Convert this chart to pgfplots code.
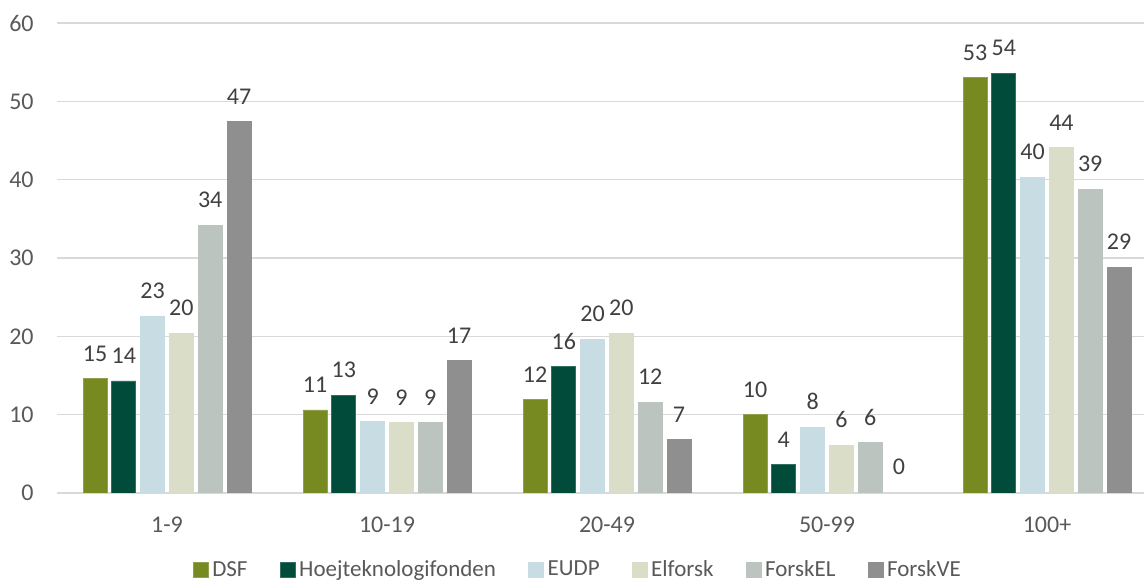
\documentclass[border=0pt]{standalone}
\usepackage{pgfplots}
\pgfplotsset{compat=1.18}
\usepackage{fontspec}
\setmainfont{Carlito}
\definecolor{cDSF}{HTML}{778A22}
\definecolor{cHoej}{HTML}{004B3A}
\definecolor{cEUDP}{HTML}{C8DCE4}
\definecolor{cElf}{HTML}{DADDC8}
\definecolor{cFEL}{HTML}{BCC4C0}
\definecolor{cFVE}{HTML}{8F8F8F}
\definecolor{txt}{HTML}{595959}
\definecolor{lbl}{HTML}{404040}
\definecolor{grd}{HTML}{D9D9D9}
\begin{document}
\begin{tikzpicture}
\begin{axis}[
  x=110pt, y=3.9167pt,
  xmin=-0.5, xmax=4.45, ymin=0, ymax=60,
  ybar=2.4pt, bar width=12pt,
  axis line style={draw=none},
  ymajorgrids, grid style={grd, line width=0.8pt},
  ytick={0,10,...,60},
  xtick={0,1,2,3,4},
  xticklabels={1-9,10-19,20-49,50-99,100+},
  major tick length=0pt,
  tick label style={font=\fontsize{12}{14}\selectfont, text=txt, inner sep=0pt},
  xticklabel style={yshift=-12pt},
  yticklabel style={xshift=-11.5pt},
  /pgf/number format/assume math mode=true,
  nodes near coords,
  nodes near coords style={font=\fontsize{12}{14}\selectfont, text=lbl, inner sep=0pt, yshift=8.5pt, /pgf/number format/.cd, fixed, precision=0},
  legend columns=6,
  legend style={draw=none, at={(0.479,-0.164)}, anchor=center, font=\fontsize{11.5}{13}\selectfont, text=txt,
    nodes={inner sep=1.7pt},
    /tikz/every even column/.append style={column sep=14.5pt}},
  legend image code/.code={\fill[#1] (0pt,-3.75pt) rectangle (7.5pt,3.75pt);},
  enlarge x limits=false,
]
\draw[grd, line width=0.8pt] (axis cs:-0.5,0) -- (axis cs:4.45,0);
\addplot[fill=cDSF, draw=cDSF!80!white] coordinates {(0,14.6) (1,10.6) (2,11.9) (3,10.0) (4,53.0)};
\addplot[fill=cHoej, draw=cHoej!80!white] coordinates {(0,14.3) (1,12.5) (2,16.1) (3,3.6) (4,53.6)};
\addplot[fill=cEUDP, draw=cEUDP] coordinates {(0,22.6) (1,9.1) (2,19.6) (3,8.4) (4,40.3)};
\addplot[fill=cElf, draw=cElf] coordinates {(0,20.4) (1,9.0) (2,20.4) (3,6.1) (4,44.1)};
\addplot[fill=cFEL, draw=cFEL] coordinates {(0,34.2) (1,9.0) (2,11.6) (3,6.4) (4,38.8)};
\addplot[fill=cFVE, draw=cFVE] coordinates {(0,47.4) (1,16.9) (2,6.8) (4,28.8)};
\node[font=\fontsize{12}{14}\selectfont, text=lbl, inner sep=0pt, anchor=south] at (axis cs:3,2.3) [xshift=36pt] {0};
\legend{DSF,Hoejteknologifonden,EUDP,Elforsk,ForskEL,ForskVE}
\end{axis}
\pgfresetboundingbox
\path[use as bounding box] (-28.5pt,-44pt) rectangle (543.5pt,246.5pt);
\end{tikzpicture}
\end{document}
